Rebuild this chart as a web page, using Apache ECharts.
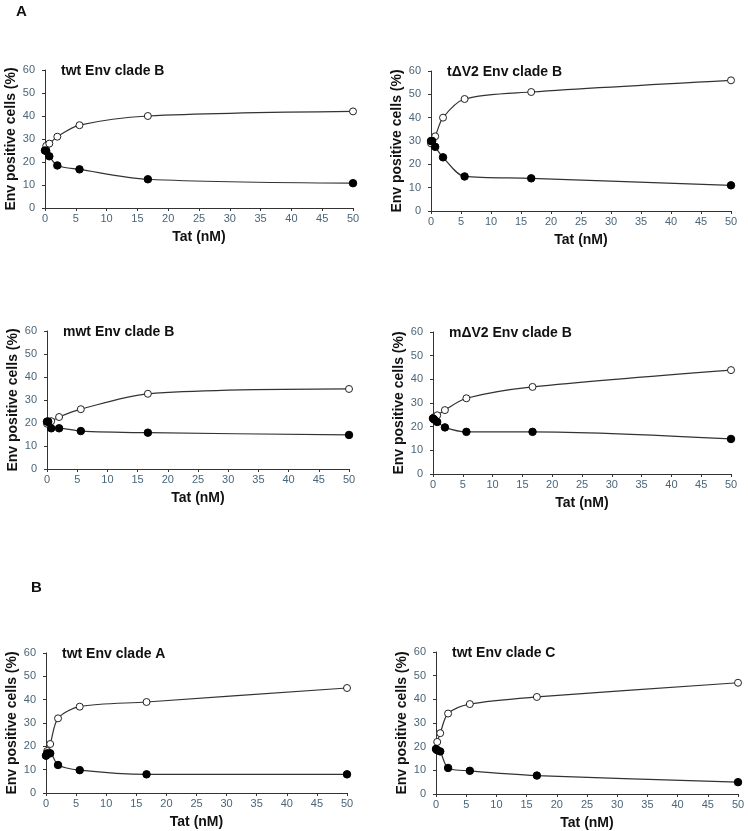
<!DOCTYPE html>
<html><head><meta charset="utf-8">
<script src="https://cdn.jsdelivr.net/npm/echarts@6/dist/echarts.min.js"></script>
<style>html,body{margin:0;padding:0;background:#fff}#c{width:748px;height:831px}</style>
</head><body><div id="c"></div>
<script>
const doses = [0, 0.2, 0.7, 2, 5.6, 16.7, 50];
const xTicks = [0, 5, 10, 15, 20, 25, 30, 35, 40, 45, 50];
const yTicks = [0, 10, 20, 30, 40, 50, 60];
const panelTitles = ['twt Env clade B', 't\u0394V2 Env clade B', 'mwt Env clade B', 'm\u0394V2 Env clade B', 'twt Env clade A', 'twt Env clade C'];
const twtB_open   = [25, 27, 28, 31, 36, 40, 42];
const twtB_filled = [25, 24.8, 22.5, 18.5, 16.8, 12.5, 10.8];
const tdV2B_open   = [29, 30, 32, 40, 48, 51, 56];
const tdV2B_filled = [30, 30, 27.5, 23, 14.8, 14, 11];
const mwtB_open   = [19.7, 20.3, 20.8, 22.6, 26, 32.7, 34.8];
const mwtB_filled = [20.6, 20.6, 17.7, 17.7, 16.5, 15.8, 14.8];
const mdV2B_open   = [23.5, 24, 24.8, 27, 32, 36.8, 43.9];
const mdV2B_filled = [23.5, 23, 22, 19.7, 17.8, 17.8, 14.8];
const twtA_open   = [16, 18, 21, 32, 37, 39, 45];
const twtA_filled = [16, 17, 17, 12, 9.8, 8, 8];
const twtC_open   = [19, 22, 25.7, 34, 38, 41, 47];
const twtC_filled = [19, 18.5, 18, 11, 9.8, 7.8, 5];

const openSets = [twtB_open, tdV2B_open, mwtB_open, mdV2B_open, twtA_open, twtC_open];
const filledSets = [twtB_filled, tdV2B_filled, mwtB_filled, mdV2B_filled, twtA_filled, twtC_filled];

// layout boxes [left, top, width, height]
const boxes = [
  [45, 70, 308, 138],
  [431, 71, 300, 140],
  [47, 331, 302, 138],
  [433, 332, 298, 142],
  [46, 653, 301, 140],
  [436, 652, 302, 142]
];
const FONT = '"Liberation Sans", Arial, sans-serif';
const tickColor = '#4a6578';

const grids = [], xAxes = [], yAxes = [], series = [], titles = [];
boxes.forEach((b, i) => {
  grids.push({left: b[0], top: b[1], width: b[2], height: b[3], containLabel: false});
  xAxes.push({
    type: 'value', gridIndex: i, min: xTicks[0], max: xTicks[xTicks.length - 1], interval: xTicks[1] - xTicks[0],
    name: 'Tat (nM)', nameLocation: 'middle', nameGap: 22,
    nameTextStyle: {fontFamily: FONT, fontWeight: 'bold', fontSize: 14, color: '#111'},
    axisLine: {lineStyle: {color: '#333', width: 1}},
    axisTick: {show: true, length: 3, lineStyle: {color: '#333'}},
    axisLabel: {fontFamily: FONT, fontSize: 11, color: tickColor, margin: 5},
    splitLine: {show: false}
  });
  yAxes.push({
    type: 'value', gridIndex: i, min: yTicks[0], max: yTicks[yTicks.length - 1], interval: yTicks[1] - yTicks[0],
    name: 'Env positive cells (%)', nameLocation: 'middle', nameGap: 27, nameRotate: 90,
    nameTextStyle: {fontFamily: FONT, fontWeight: 'bold', fontSize: 14, color: '#111'},
    axisLine: {show: true, lineStyle: {color: '#333', width: 1}},
    axisTick: {show: true, length: 3, lineStyle: {color: '#333'}},
    axisLabel: {fontFamily: FONT, fontSize: 11, color: tickColor, margin: 10},
    splitLine: {show: false}
  });
  titles.push({
    text: panelTitles[i], left: b[0] + 16, top: b[1] - 6, padding: 0,
    textStyle: {fontFamily: FONT, fontWeight: 'bold', fontSize: 14, color: '#111'}
  });
  series.push({
    type: 'line', xAxisIndex: i, yAxisIndex: i, smooth: 0.3,
    data: doses.map((d, k) => [d, openSets[i][k]]),
    symbol: 'circle', symbolSize: 7,
    itemStyle: {color: '#fff', borderColor: '#222', borderWidth: 1},
    lineStyle: {color: '#333', width: 1.2}, z: 2
  });
  series.push({
    type: 'line', xAxisIndex: i, yAxisIndex: i, smooth: 0.3,
    data: doses.map((d, k) => [d, filledSets[i][k]]),
    symbol: 'circle', symbolSize: 7.5,
    itemStyle: {color: '#000', borderColor: '#000', borderWidth: 1},
    lineStyle: {color: '#333', width: 1.2}, z: 3
  });
});
titles.push({text: 'A', left: 16, top: 4, padding: 0, textStyle: {fontFamily: FONT, fontWeight: 'bold', fontSize: 15, color: '#111'}});
titles.push({text: 'B', left: 31, top: 580, padding: 0, textStyle: {fontFamily: FONT, fontWeight: 'bold', fontSize: 15, color: '#111'}});

const chart = echarts.init(document.getElementById('c'), null, {renderer: 'canvas'});
chart.setOption({
  animation: false,
  backgroundColor: '#fff',
  title: titles,
  grid: grids,
  xAxis: xAxes,
  yAxis: yAxes,
  series: series
});
</script>
</body></html>
